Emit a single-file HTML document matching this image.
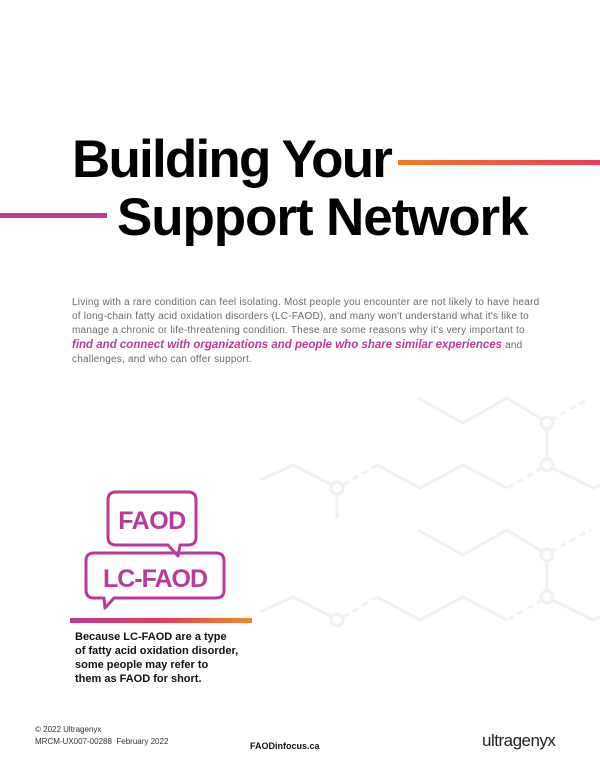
<!DOCTYPE html>
<html><head><meta charset="utf-8"><style>
body{margin:0;width:600px;height:776px;background:#fff;position:relative;overflow:hidden;font-family:"Liberation Sans",sans-serif}
.t{position:absolute;font-weight:bold;font-size:53px;letter-spacing:-1.8px;color:#000;white-space:nowrap;line-height:1}
.p{position:absolute;left:72px;top:296px;font-size:10px;line-height:14px;color:#6a6a6a;letter-spacing:0.22px;white-space:nowrap}
.p b{color:#c2399a;font-style:italic;font-size:11.5px;letter-spacing:0}
.c{position:absolute;left:75px;top:630px;font-size:11px;font-weight:bold;line-height:14px;color:#111}
.f{position:absolute;font-size:8px;color:#333;line-height:12px}
</style></head><body>
<svg width="600" height="776" style="position:absolute;left:0;top:0">
<defs>
<linearGradient id="o" x1="0" x2="1"><stop offset="0" stop-color="#f47a28"/><stop offset="1" stop-color="#ee3a52"/></linearGradient>
<linearGradient id="b" x1="0" x2="1"><stop offset="0" stop-color="#c13a94"/><stop offset=".5" stop-color="#e83a5a"/><stop offset="1" stop-color="#f58a24"/></linearGradient>
</defs>
<rect x="398" y="160" width="202" height="5" fill="url(#o)"/>
<rect x="0" y="213" width="107" height="5" fill="#c13a94"/>
<g fill="none" stroke="#f1f1f1" stroke-width="3">
<g id="m">
<polyline points="418,398 463,423 507,398 543,420"/>
<line x1="551" y1="420" x2="590" y2="398" stroke-dasharray="6,5"/>
<circle cx="547" cy="423" r="6"/>
<line x1="547" y1="429" x2="547" y2="459"/>
<circle cx="547" cy="465" r="6"/>
<polyline points="552,468 593,488 600,485"/>
<line x1="542" y1="468" x2="507" y2="488" stroke-dasharray="6,5"/>
<polyline points="507,488 463,465 420,488 377,465"/>
<line x1="377" y1="465" x2="343" y2="485" stroke-dasharray="6,5"/>
<circle cx="337" cy="488" r="6"/>
<polyline points="332,485 293,465 260,480"/>
</g>
<line x1="337" y1="494" x2="337" y2="518"/>
<use href="#m" y="132"/>
</g>
<g fill="none" stroke="#b83b9c" stroke-width="3" stroke-linejoin="round">
<path d="M116,492 H188 Q196,492 196,500 V537 Q196,545 188,545 H180 L178,556 L168,545 H116 Q108,545 108,537 V500 Q108,492 116,492 Z"/>
<path d="M94,553 H216 Q224,553 224,561 V590 Q224,598 216,598 H114 L105,608 L104,598 H94 Q86,598 86,590 V561 Q86,553 94,553 Z"/>
</g>
<text x="152" y="529" text-anchor="middle" font-family="Liberation Sans" font-weight="bold" font-size="25" fill="#b83b9c" letter-spacing="-0.5">FAOD</text>
<text x="155" y="587" text-anchor="middle" font-family="Liberation Sans" font-weight="bold" font-size="25" fill="#b83b9c" letter-spacing="-1">LC-FAOD</text>
<rect x="70" y="618" width="182" height="5" fill="url(#b)"/>
</svg>
<div class="t" style="left:72px;top:133px">Building Your</div>
<div class="t" style="left:117px;top:191px;letter-spacing:-1.1px">Support Network</div>
<div class="p">Living with a rare condition can feel isolating. Most people you encounter are not likely to have heard<br>of long-chain fatty acid oxidation disorders (LC-FAOD), and many won't understand what it's like to<br>manage a chronic or life-threatening condition. These are some reasons why it's very important to<br><b>find and connect with organizations and people who share similar experiences</b> and<br>challenges, and who can offer support.</div>
<div class="c">Because LC-FAOD are a type<br>of fatty acid oxidation disorder,<br>some people may refer to<br>them as FAOD for short.</div>
<div class="f" style="left:35px;top:724px">© 2022 Ultragenyx<br>MRCM-UX007-00288&nbsp; February 2022</div>
<div class="f" style="left:250px;top:740px;font-weight:bold;font-size:9px;color:#111">FAODinfocus.ca</div>
<div class="f" style="left:482px;top:731px;font-size:17px;line-height:20px;color:#222;letter-spacing:-0.5px">ultragenyx</div>
</body></html>
